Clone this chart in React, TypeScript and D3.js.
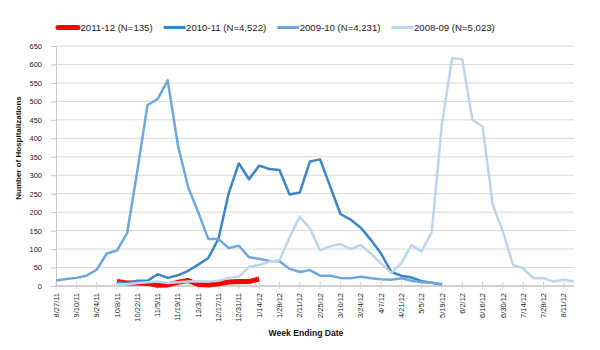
import React, { useEffect, useRef } from "react";
import * as d3 from "d3";

// week ending dates, 8/27/11 .. 8/18/12
const weeks = [
  "8/27/11", "9/3/11", "9/10/11", "9/17/11", "9/24/11", "10/1/11", "10/8/11", "10/15/11",
  "10/22/11", "10/29/11", "11/5/11", "11/12/11", "11/19/11", "11/26/11", "12/3/11", "12/10/11",
  "12/17/11", "12/24/11", "12/31/11", "1/7/12", "1/14/12", "1/21/12", "1/28/12", "2/4/12",
  "2/11/12", "2/18/12", "2/25/12", "3/3/12", "3/10/12", "3/17/12", "3/24/12", "3/31/12",
  "4/7/12", "4/14/12", "4/21/12", "4/28/12", "5/5/12", "5/12/12", "5/19/12", "5/26/12",
  "6/2/12", "6/9/12", "6/16/12", "6/23/12", "6/30/12", "7/7/12", "7/14/12", "7/21/12",
  "7/28/12", "8/4/12", "8/11/12", "8/18/12",
];

const tickLabels = [
  "8/27/11", "9/10/11", "9/24/11", "10/8/11", "10/22/11", "11/5/11", "11/19/11", "12/3/11",
  "12/17/11", "12/31/11", "1/14/12", "1/28/12", "2/11/12", "2/25/12", "3/10/12", "3/24/12",
  "4/7/12", "4/21/12", "5/5/12", "5/19/12", "6/2/12", "6/16/12", "6/30/12", "7/14/12",
  "7/28/12", "8/11/12",
];

// each season starts at the given week
const start2011_12 = "10/8/11";
const values2011_12 = [12, 8, 8, 7, 2, 3, 10, 15, 4, 3, 6, 11, 12, 12, 19];

const start2010_11 = "10/8/11";
const values2010_11 = [
  10, 8, 14, 14, 32, 22, 29, 41, 58, 76, 128, 251, 332, 289, 326, 317, 314, 248, 253, 337,
  343, 269, 195, 180, 158, 125, 88, 38, 28, 23, 13, 9, 4,
];

const start2009_10 = "8/27/11";
const values2009_10 = [
  15, 19, 22, 28, 44, 88, 96, 143, 310, 490, 506, 557, 382, 268, 200, 127, 127, 103, 109, 78,
  74, 68, 67, 47, 38, 43, 28, 28, 22, 21, 25, 21, 18, 17, 21, 14, 10, 9, 5,
];

const start2008_09 = "10/8/11";
const values2008_09 = [
  5, 5, 8, 10, 12, 8, 10, 12, 13, 12, 14, 22, 25, 52, 57, 66, 70, 132, 188, 156, 97, 107, 114,
  100, 111, 88, 61, 35, 62, 111, 93, 147, 440, 617, 614, 450, 432, 220, 148, 57, 48, 21, 21,
  12, 17, 12,
];

const seasonNames = ["2011-12 (N=135)", "2010-11 (N=4,522)", "2009-10 (N=4,231)", "2008-09 (N=5,023)"];

const FONT = "'Liberation Sans', Arial, sans-serif";

function App() {
  const svgRef = useRef<SVGSVGElement | null>(null);

  useEffect(() => {
    const width = 600;
    const height = 350;
    const margin = { top: 46, right: 26, bottom: 64, left: 56 };

    const svg = d3.select(svgRef.current);
    svg.selectAll("*").remove();
    svg.attr("width", width).attr("height", height).style("font-family", FONT);

    const x = d3
      .scalePoint<string>()
      .domain(weeks)
      .range([margin.left, width - margin.right]);

    const y = d3
      .scaleLinear()
      .domain([0, 650])
      .range([height - margin.bottom, margin.top]);

    const series = [
      { name: seasonNames[0], start: start2011_12, values: values2011_12, color: "#ff0000", w: 5, thick: true },
      { name: seasonNames[1], start: start2010_11, values: values2010_11, color: "#3d85c6", w: 2.5, thick: false },
      { name: seasonNames[2], start: start2009_10, values: values2009_10, color: "#6fa8dc", w: 2.5, thick: false },
      { name: seasonNames[3], start: start2008_09, values: values2008_09, color: "#bdd6ef", w: 2.5, thick: false },
    ];

    // grid
    svg
      .append("g")
      .selectAll("line")
      .data(y.ticks(13))
      .enter()
      .append("line")
      .attr("x1", margin.left)
      .attr("x2", width - margin.right)
      .attr("y1", (d) => y(d))
      .attr("y2", (d) => y(d))
      .attr("stroke", "#d9d9d9")
      .attr("stroke-width", 1);

    // y axis
    const yAxis = svg
      .append("g")
      .attr("transform", `translate(${margin.left},0)`)
      .call(d3.axisLeft(y).ticks(13).tickSize(5).tickPadding(9));
    yAxis.select(".domain").attr("stroke", "#c8c8c8");
    yAxis.selectAll(".tick line").attr("stroke", "#c8c8c8");
    yAxis
      .selectAll(".tick text")
      .attr("fill", "#222")
      .style("font-size", "7.5px")
      .style("font-family", FONT);

    // x axis
    const x0 = y(0);
    svg
      .append("line")
      .attr("x1", margin.left)
      .attr("x2", width - margin.right)
      .attr("y1", x0)
      .attr("y2", x0)
      .attr("stroke", "#c8c8c8")
      .attr("stroke-width", 1.5);

    svg
      .append("g")
      .selectAll("line")
      .data(tickLabels)
      .enter()
      .append("line")
      .attr("x1", (d) => x(d)!)
      .attr("x2", (d) => x(d)!)
      .attr("y1", x0 - 4)
      .attr("y2", x0 + 3)
      .attr("stroke", "#d0d0d0");

    svg
      .append("g")
      .selectAll("text")
      .data(tickLabels)
      .enter()
      .append("text")
      .attr("transform", (d) => `translate(${x(d)! + 2.6},${x0 + 7}) rotate(-90)`)
      .attr("text-anchor", "end")
      .style("font-size", "7.5px")
      .attr("fill", "#222")
      .text((d) => d);

    // season lines, oldest drawn last (on top)
    series.forEach((s) => {
      const i0 = weeks.indexOf(s.start);
      const gen = d3
        .line<number>()
        .x((_, i) => x(weeks[i0 + i])!)
        .y((d) => y(d));
      svg
        .append("path")
        .datum(s.values)
        .attr("d", gen)
        .attr("fill", "none")
        .attr("stroke", s.color)
        .attr("stroke-width", s.w)
        .attr("stroke-linejoin", "round");
    });

    // legend
    const legend = svg.append("g").attr("transform", "translate(58,27.5)");
    let lx = 0;
    series.forEach((s) => {
      const g = legend.append("g").attr("transform", `translate(${lx},0)`);
      g.append("line")
        .attr("x1", 0)
        .attr("x2", s.thick ? 20 : 22)
        .attr("y1", 0)
        .attr("y2", 0)
        .attr("stroke", s.color)
        .attr("stroke-width", s.thick ? 5 : 3)
        .attr("stroke-linecap", s.thick ? "round" : "butt");
      const t = g
        .append("text")
        .attr("x", 22.5)
        .attr("dy", "0.35em")
        .style("font-size", "9.6px")
        .attr("fill", "#222")
        .text(s.name);
      const tw = (t.node() as SVGTextElement).getComputedTextLength();
      lx += 22.5 + tw + 11;
    });

    // axis titles
    svg
      .append("text")
      .attr("transform", "translate(21,148) rotate(-90)")
      .attr("text-anchor", "middle")
      .style("font-size", "8px")
      .style("font-weight", "bold")
      .attr("fill", "#111")
      .text("Number of Hospitalizations");

    svg
      .append("text")
      .attr("x", 306)
      .attr("y", 336)
      .attr("text-anchor", "middle")
      .style("font-size", "8.6px")
      .style("font-weight", "bold")
      .attr("fill", "#111")
      .text("Week Ending Date");
  }, []);

  return (
    <svg
      ref={svgRef}
      style={{ position: "absolute", left: 0, top: 0, display: "block", background: "#fff" }}
    />
  );
}

export default App;
